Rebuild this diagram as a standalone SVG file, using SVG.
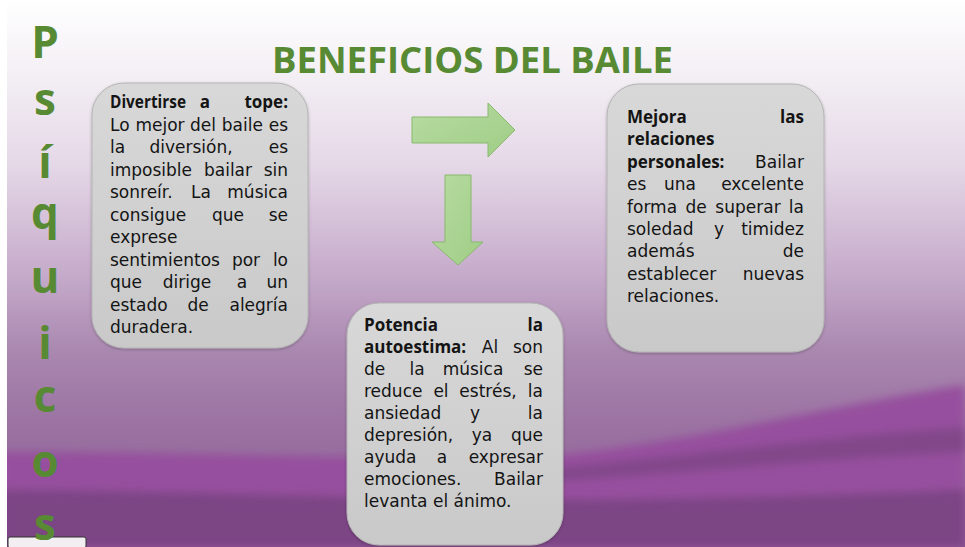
<svg xmlns="http://www.w3.org/2000/svg" width="965" height="547" viewBox="0 0 965 547">
<defs>
<style>
.t{font-family:'DejaVu Sans','Open Sans',sans-serif;font-size:17px;fill:#141414}
.b{font-family:'Open Sans','DejaVu Sans',sans-serif;font-weight:bold}
.e{text-anchor:end}
.m{text-anchor:middle}
.g{font-family:'Open Sans','DejaVu Sans',sans-serif;font-weight:bold;fill:#578a33}
.s{font-size:44px;text-anchor:middle}
.box{fill:url(#boxg);stroke:#b4b4b4;stroke-width:1;filter:url(#sh)}
.arr{fill:url(#arrg);stroke:#88b96d;stroke-width:1}
</style>
<linearGradient id="bg" x1="0" y1="0" x2="0" y2="1">
<stop offset="0" stop-color="#ffffff"/>
<stop offset="0.12" stop-color="#f5f1f6"/>
<stop offset="0.3" stop-color="#e5d8e7"/>
<stop offset="0.5" stop-color="#c6abcb"/>
<stop offset="0.65" stop-color="#a886ae"/>
<stop offset="0.78" stop-color="#9b72a2"/>
<stop offset="1" stop-color="#8a5e92"/>
</linearGradient>
<linearGradient id="boxg" x1="0" y1="0" x2="0" y2="1">
<stop offset="0" stop-color="#d8d8d8"/>
<stop offset="1" stop-color="#c9c9c9"/>
</linearGradient>
<linearGradient id="arrg" x1="0" y1="0" x2="1" y2="1">
<stop offset="0" stop-color="#b8dca3"/>
<stop offset="1" stop-color="#9fcd85"/>
</linearGradient>
<filter id="sh" x="-10%" y="-10%" width="120%" height="120%">
<feDropShadow dx="0" dy="1" stdDeviation="1.5" flood-color="#000" flood-opacity="0.25"/>
</filter>
<filter id="bl" x="-5%" y="-50%" width="110%" height="200%">
<feGaussianBlur stdDeviation="4"/>
</filter>
</defs>

<g id="background">
<rect x="0" y="0" width="965" height="547" fill="url(#bg)"/>
<path d="M0,452 C200,452 450,462 560,455 C700,440 850,402 965,385 L965,547 L0,547Z" fill="#96509e" filter="url(#bl)"/>
<path d="M420,478 C600,470 780,440 965,428 L965,452 C800,458 620,482 420,486Z" fill="#7a4482" opacity="0.75" filter="url(#bl)"/>
<path d="M0,490 C200,492 400,500 600,500 C750,498 880,494 965,490 L965,547 L0,547Z" fill="#7c4584" filter="url(#bl)"/>
<rect x="0" y="0" width="7" height="547" fill="#ffffff"/>
<rect x="8" y="537" width="78" height="11" rx="2" fill="#f2eef2" stroke="#333" stroke-width="1"/>
</g>

<g id="title">
<text class="g" x="272" y="73" font-size="36" textLength="401" lengthAdjust="spacingAndGlyphs">BENEFICIOS DEL BAILE</text>
</g>

<g id="side-word">
<text class="g s" x="45" y="58">P</text>
<text class="g s" x="45" y="115">s</text>
<text class="g s" x="45" y="178">í</text>
<text class="g s" x="45" y="229">q</text>
<text class="g s" x="45" y="293">u</text>
<text class="g s" x="45" y="359">i</text>
<text class="g s" x="45" y="412">c</text>
<text class="g s" x="45" y="477">o</text>
<text class="g s" x="45" y="540">s</text>
</g>

<g id="connectors">
<polygon class="arr" points="412,117 488,117 488,103 515,130 488,157 488,143 412,143"/>
<polygon class="arr" points="445,175 471,175 471,242 483,242 458,265 432,242 445,242"/>
</g>

<g id="node-divertirse">
<rect class="box" x="92" y="83" width="216" height="265" rx="32"/>
<text class="t b" x="110" y="108" textLength="76" lengthAdjust="spacingAndGlyphs">Divertirse</text>
<text class="t b m" x="205" y="108">a</text>
<text class="t b e" x="288" y="108">tope:</text>
<text class="t" x="110" y="130.5">Lo</text>
<text class="t m" x="160" y="130.5">mejor</text>
<text class="t m" x="203" y="130.5">del</text>
<text class="t m" x="242.4" y="130.5">baile</text>
<text class="t e" x="288" y="130.5">es</text>
<text class="t" x="110" y="153">la</text>
<text class="t m" x="191" y="153">diversión,</text>
<text class="t e" x="288" y="153">es</text>
<text class="t" x="110" y="175.5">imposible</text>
<text class="t m" x="228" y="175.5">bailar</text>
<text class="t e" x="288" y="175.5">sin</text>
<text class="t" x="110" y="198">sonreír.</text>
<text class="t m" x="201" y="198">La</text>
<text class="t e" x="288" y="198">música</text>
<text class="t" x="110" y="220.5">consigue</text>
<text class="t m" x="228" y="220.5">que</text>
<text class="t e" x="288" y="220.5">se</text>
<text class="t" x="110" y="243">exprese</text>
<text class="t" x="110" y="265.5">sentimientos</text>
<text class="t m" x="246" y="265.5">por</text>
<text class="t e" x="288" y="265.5">lo</text>
<text class="t" x="110" y="288">que</text>
<text class="t m" x="187" y="288">dirige</text>
<text class="t m" x="242" y="288">a</text>
<text class="t e" x="288" y="288">un</text>
<text class="t" x="110" y="310.5">estado</text>
<text class="t m" x="198" y="310.5">de</text>
<text class="t e" x="288" y="310.5">alegría</text>
<text class="t" x="110" y="333">duradera.</text>
</g>

<g id="node-autoestima">
<rect class="box" x="347" y="303" width="216" height="242" rx="32"/>
<text class="t b" x="364" y="331">Potencia</text>
<text class="t b e" x="543" y="331">la</text>
<text class="t b" x="364" y="353">autoestima:</text>
<text class="t m" x="490" y="353">Al</text>
<text class="t e" x="543" y="353">son</text>
<text class="t" x="364" y="375">de</text>
<text class="t m" x="417" y="375">la</text>
<text class="t m" x="473" y="375">música</text>
<text class="t e" x="543" y="375">se</text>
<text class="t" x="364" y="397">reduce</text>
<text class="t m" x="441" y="397">el</text>
<text class="t m" x="488" y="397">estrés,</text>
<text class="t e" x="543" y="397">la</text>
<text class="t" x="364" y="419">ansiedad</text>
<text class="t m" x="475" y="419">y</text>
<text class="t e" x="543" y="419">la</text>
<text class="t" x="364" y="441">depresión,</text>
<text class="t m" x="482" y="441">ya</text>
<text class="t e" x="543" y="441">que</text>
<text class="t" x="364" y="463">ayuda</text>
<text class="t m" x="442" y="463">a</text>
<text class="t e" x="543" y="463">expresar</text>
<text class="t" x="364" y="485">emociones.</text>
<text class="t e" x="543" y="485">Bailar</text>
<text class="t" x="364" y="507">levanta el ánimo.</text>
</g>

<g id="node-relaciones">
<rect class="box" x="607" y="84" width="217" height="268" rx="32"/>
<text class="t b" x="627" y="123">Mejora</text>
<text class="t b e" x="804" y="123">las</text>
<text class="t b" x="627" y="145.4">relaciones</text>
<text class="t b" x="627" y="167.8">personales:</text>
<text class="t e" x="804" y="167.8">Bailar</text>
<text class="t" x="627" y="190.2">es</text>
<text class="t m" x="680" y="190.2">una</text>
<text class="t e" x="804" y="190.2">excelente</text>
<text class="t" x="627" y="212.6">forma</text>
<text class="t m" x="696" y="212.6">de</text>
<text class="t m" x="748" y="212.6">superar</text>
<text class="t e" x="804" y="212.6">la</text>
<text class="t" x="627" y="235">soledad</text>
<text class="t m" x="719" y="235">y</text>
<text class="t e" x="804" y="235">timidez</text>
<text class="t" x="627" y="257.4">además</text>
<text class="t e" x="804" y="257.4">de</text>
<text class="t" x="627" y="279.8">establecer</text>
<text class="t e" x="804" y="279.8">nuevas</text>
<text class="t" x="627" y="302.2">relaciones.</text>
</g>
</svg>
